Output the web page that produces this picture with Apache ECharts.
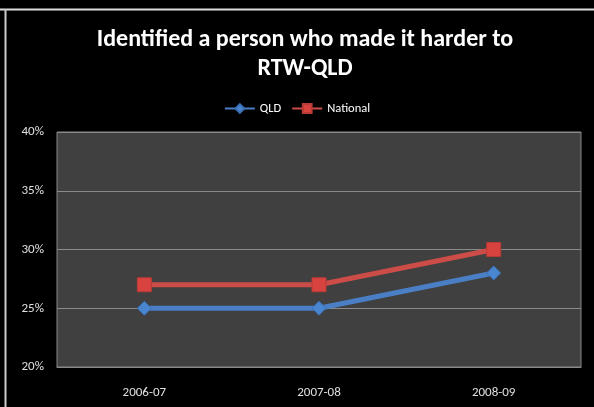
<!DOCTYPE html>
<html>
<head>
<meta charset="utf-8">
<style>
html,body{margin:0;padding:0;background:#000;}
#chart{width:594px;height:407px;}
</style>
<script src="https://cdn.jsdelivr.net/npm/echarts@6/dist/echarts.min.js"></script>
</head>
<body>
<div id="chart"></div>
<script>
const titleText = 'Identified a person who made it harder to\nRTW-QLD';
const categories = ['2006-07', '2007-08', '2008-09'];
const qldValues = [25, 25, 28];
const nationalValues = [27, 27, 30];
const yTicks = [20, 25, 30, 35, 40];

const chart = echarts.init(document.getElementById('chart'), null, {renderer: 'canvas'});
const font = 'Calibri, Carlito, Lato, "Open Sans", "Liberation Sans", sans-serif';
chart.setOption({
  backgroundColor: '#000',
  animation: false,
  title: {
    text: titleText,
    left: 300,
    textAlign: 'center',
    top: 20,
    textStyle: {color: '#fff', fontSize: 24, fontWeight: 'bold', fontFamily: font, lineHeight: 29}
  },
  legend: {
    top: 97,
    left: 'center',
    itemWidth: 30,
    itemHeight: 11,
    itemGap: 10,
    textStyle: {color: '#fff', fontSize: 12.5, fontFamily: font},
    data: ['QLD', 'National']
  },
  grid: {left: 57, right: 13, top: 132, bottom: 40, backgroundColor: '#404040', show: true, borderColor: '#888', borderWidth: 1},
  xAxis: {
    type: 'category',
    data: categories,
    boundaryGap: true,
    axisLine: {show: true, lineStyle: {color: '#888'}},
    axisTick: {show: false},
    axisLabel: {color: '#e0e0e0', fontSize: 13, fontFamily: font, margin: 19}
  },
  yAxis: {
    type: 'value',
    min: yTicks[0],
    max: yTicks[yTicks.length - 1],
    interval: 5,
    axisLine: {show: false},
    axisTick: {show: false},
    splitLine: {lineStyle: {color: '#8a8a8a', width: 1}},
    axisLabel: {color: '#e0e0e0', fontSize: 13, fontFamily: font, margin: 13, formatter: v => v + '%'}
  },
  series: [
    {
      name: 'QLD', type: 'line', data: qldValues,
      symbol: 'diamond', symbolSize: 14,
      lineStyle: {color: '#4a7fc6', width: 5},
      itemStyle: {color: '#4a86d0', borderColor: '#3a6fb5', borderWidth: 1}
    },
    {
      name: 'National', type: 'line', data: nationalValues,
      symbol: 'rect', symbolSize: 14,
      lineStyle: {color: '#cc4c48', width: 5},
      itemStyle: {color: '#d9433f', borderColor: '#b83a36', borderWidth: 1}
    }
  ],
  graphic: [
    {type: 'line', shape: {x1: 0, y1: 9.5, x2: 594, y2: 9.5}, style: {stroke: '#ddd', lineWidth: 2}, silent: true},
    {type: 'line', shape: {x1: 5.5, y1: 9, x2: 5.5, y2: 407}, style: {stroke: '#ccc', lineWidth: 2}, silent: true}
  ]
});
</script>
</body>
</html>
